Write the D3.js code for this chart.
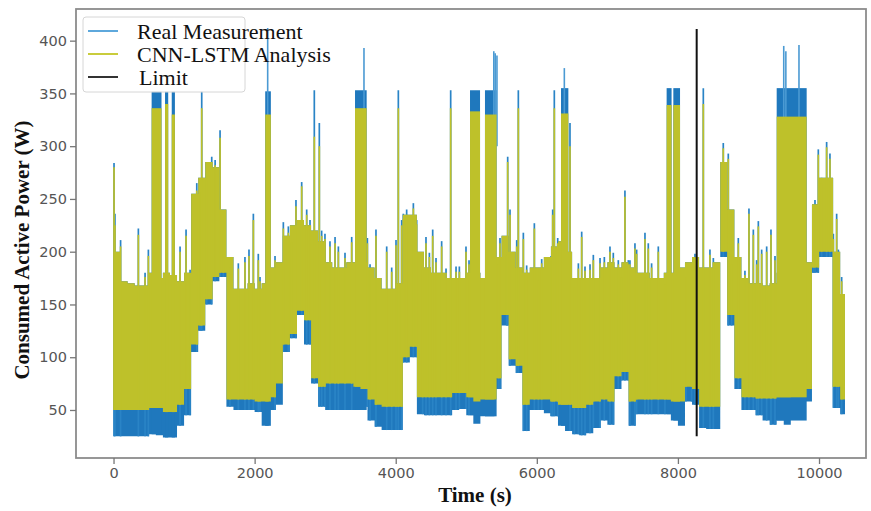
<!DOCTYPE html>
<html><head><meta charset="utf-8">
<script src="https://cdn.jsdelivr.net/npm/d3@7"></script>
<style>body{margin:0;background:#fff}svg{display:block}</style>
</head><body><svg id="c" width="871" height="511"></svg>
<script>
// ---------- data ----------
const binWidth = 100;          // seconds per envelope bin
const seriesEnd = 10368;       // last sample time (s)
// envelope of the dense part, one value per 100 s bin starting at t = 0
const realLow = [25,25,25,25,25,27,26,24,24,35,
  45,105,125,150,172,176,53,50,50,50,
  48,35,50,55,105,118,140,112,75,53,
  50,50,50,50,50,53,40,34,31,31,
  31,95,100,46,45,45,45,45,50,51,
  45,37,44,44,70,130,92,85,30,50,
  50,47,44,35,30,27,26,28,33,40,
  36,70,78,35,46,46,46,46,46,40,
  35,58,55,33,32,32,195,130,70,50,
  50,45,40,36,40,36,47,56,58,180,
  195,195,52,46];
const predLow = [50,50,50,50,50,52,52,48,48,55,
  70,112,130,155,176,180,60,60,60,60,
  58,58,62,75,112,122,144,135,80,72,
  75,75,75,75,72,70,60,55,53,53,
  53,100,110,62,62,62,62,62,66,66,
  62,58,60,60,80,140,98,92,55,60,
  60,60,58,55,55,52,52,55,58,60,
  58,82,86,58,60,60,60,60,60,58,
  58,72,70,53,53,53,200,140,80,62,
  62,61,61,61,62,62,68,70,70,185,
  200,200,72,60];
const denseTop = [200,172,170,168,168,180,175,180,178,172,
  180,255,270,285,280,240,195,165,165,170,
  165,170,185,190,215,225,230,225,220,210,
  190,185,185,190,190,190,185,175,165,165,
  170,235,235,200,185,180,180,175,175,175,
  180,180,175,180,195,215,200,185,180,185,
  185,195,205,210,200,175,175,175,175,185,
  190,185,190,185,180,180,175,175,180,180,
  185,190,195,185,185,190,285,240,195,175,
  170,170,168,170,180,180,180,180,190,245,
  270,270,200,160];
// individual spikes: time, CNN-LSTM peak, real peak
const spikeT = [7,20,100,352,447,494,943,1028,1085,1180,1227,1250,1321,1392,1440,1510,1557,
  1650,1769,1863,1920,1982,2052,2076,2289,2407,2478,2525,2586,2667,2738,2785,2846,2917,2950,2997,
  3068,3140,3187,3281,3376,3598,3636,3720,3872,3943,4004,4037,4084,4108,4155,4250,4297,4382,4429,
  4477,4524,4571,4651,4713,4779,4855,4902,4996,5039,5455,5478,5573,5587,5620,5715,5738,5809,5856,
  5965,6022,6069,6201,6225,6248,6296,6470,6532,6589,6636,6683,6754,6801,6896,6957,7037,7084,7155,
  7202,7249,7297,7320,7391,7415,7533,7580,7627,7722,7816,8114,8194,8242,8360,8454,8502,8643,8714,
  8761,8856,8950,9007,9069,9116,9140,9187,9258,9319,9376,9919,9943,9990,10037,10108,10155,10203,
  10250,10274,10321];
const spikePred = [280,225,205,216,176,196,200,215,179,258,256,336,268,285,282,308,220,
  185,184,190,196,230,192,172,192,222,218,209,243,262,235,225,309,300,215,212,
  205,208,200,194,209,208,184,215,200,181,206,336,225,231,235,241,226,187,208,
  195,215,190,205,180,336,181,181,200,188,188,208,196,285,235,205,336,212,183,
  222,173,189,192,235,336,208,300,166,184,214,182,183,192,189,190,200,194,188,
  176,252,188,188,203,198,212,203,185,200,169,176,182,193,340,197,190,298,288,
  188,208,178,236,216,188,224,198,200,216,192,238,244,292,265,299,288,212,
  231,198,172];
const spikeReal = [284,236,211,222,180,202,205,221,183,265,262,352,274,290,287,315,224,
  189,189,195,202,236,198,176,196,228,224,213,249,266,240,230,353,322,220,217,
  210,214,205,199,214,213,188,221,205,185,211,353,230,236,240,246,230,192,214,
  199,221,194,210,184,353,186,186,205,192,192,213,200,290,240,211,353,218,187,
  227,177,193,196,240,353,213,322,170,189,219,186,188,197,194,195,205,199,192,
  180,258,192,192,208,202,218,208,189,205,173,180,186,198,355,202,194,303,293,
  192,213,182,241,221,192,229,202,205,221,196,243,249,297,270,304,293,217,
  236,202,176];
// saturated blocks: start, end, CNN-LSTM top, real top
const plateauStart = [540,730,825,2150,3423,5053,5265,6343,7840,7935,9400];
const plateauEnd   = [680,775,870,2230,3588,5195,5430,6447,7910,8030,9825];
const plateauPred  = [336,340,330,330,336,333,330,331,339,339,328];
const plateauReal  = [352,352,352,352,353,353,353,355,355,355,355];
// thin real-measurement peaks above the blocks
const peakT    = [2185,3550,5390,5410,5435,6390,9500,9530,9716];
const peakReal = [412,393,390,388,386,374,395,390,396];
// limit line
const limitT = 8266;
const limitLow = 25, limitHigh = 411;
const xTicks = [0,2000,4000,6000,8000,10000];
const yTicks = [50,100,150,200,250,300,350,400];
const legendLabels = ["Real Measurement","CNN-LSTM Analysis","Limit"];

// ---------- drawing ----------
const BLUE = "#1f78bd", YEL = "#bec12a";
const svg = d3.select("#c");
const x = d3.scaleLinear().domain([-532, 10666]).range([76, 866]);
const y = d3.scaleLinear().domain([4.5, 430]).range([458, 9]);

const bins = realLow.map((v, i) => ({t: i * binWidth, rl: v, pl: predLow[i], top: denseTop[i]}));
const last = bins[bins.length - 1];
const areaData = bins.concat([{t: seriesEnd, rl: last.rl, pl: last.pl, top: last.top}]);
const binAt = t => bins[Math.max(0, Math.min(bins.length - 1, Math.floor(t / binWidth)))];

const g = svg.append("g");
// blue (real) band
g.append("path").datum(areaData)
  .attr("d", d3.area().curve(d3.curveStepAfter).x(d => x(d.t)).y0(d => y(d.rl)).y1(d => y(d.top)))
  .attr("fill", BLUE);
// blue plateaus
plateauStart.forEach((s, i) => {
  g.append("rect").attr("x", x(s)).attr("width", x(plateauEnd[i]) - x(s))
    .attr("y", y(plateauReal[i])).attr("height", y(binAt(s).rl) - y(plateauReal[i]))
    .attr("fill", BLUE);
});
// blue spikes
g.selectAll("line.bs").data(spikeT).enter().append("line")
  .attr("x1", d => x(d)).attr("x2", d => x(d))
  .attr("y1", d => y(binAt(d).rl)).attr("y2", (d, i) => y(spikeReal[i]))
  .attr("stroke", "#2a84c6").attr("stroke-width", 1.7);
g.selectAll("line.bp").data(peakT).enter().append("line")
  .attr("x1", d => x(d)).attr("x2", d => x(d))
  .attr("y1", d => y(300)).attr("y2", (d, i) => y(peakReal[i]))
  .attr("stroke", "#4b9ad3").attr("stroke-width", 1.6);
// yellow (CNN-LSTM) band
g.append("path").datum(areaData)
  .attr("d", d3.area().curve(d3.curveStepAfter).x(d => x(d.t)).y0(d => y(d.pl)).y1(d => y(d.top)))
  .attr("fill", YEL);
plateauStart.forEach((s, i) => {
  g.append("rect").attr("x", x(s)).attr("width", x(plateauEnd[i]) - x(s))
    .attr("y", y(plateauPred[i])).attr("height", y(binAt(s).pl) - y(plateauPred[i]))
    .attr("fill", YEL);
});
g.selectAll("line.ys").data(spikeT).enter().append("line")
  .attr("x1", d => x(d)).attr("x2", d => x(d))
  .attr("y1", d => y(binAt(d).pl)).attr("y2", (d, i) => y(spikePred[i]))
  .attr("stroke", YEL).attr("stroke-width", 1.7);

// limit line
svg.append("line").attr("x1", x(limitT)).attr("x2", x(limitT))
  .attr("y1", y(limitLow)).attr("y2", y(limitHigh))
  .attr("stroke", "#111").attr("stroke-width", 2);

// frame
svg.append("rect").attr("x", 76).attr("y", 9).attr("width", 790).attr("height", 449)
  .attr("fill", "none").attr("stroke", "#8c8c8c").attr("stroke-width", 1.8);

// axes
const ax = svg.append("g").attr("transform", "translate(0,458)")
  .call(d3.axisBottom(x).tickValues(xTicks).tickSize(6).tickPadding(4).tickFormat(d3.format("d")));
const ay = svg.append("g").attr("transform", "translate(76,0)")
  .call(d3.axisLeft(y).tickValues(yTicks).tickSize(6).tickPadding(3));
[ax, ay].forEach(a => {
  a.select(".domain").remove();
  a.selectAll("line").attr("stroke", "#777").attr("stroke-width", 1.3);
  a.selectAll("text").attr("fill", "#555").style("font-family", "DejaVu Sans").style("font-size", "14.5px");
});

// axis titles
svg.append("text").attr("x", 475).attr("y", 502).attr("text-anchor", "middle")
  .style("font-family", "Liberation Serif").style("font-weight", "bold").style("font-size", "21px")
  .attr("fill", "#111").text("Time (s)");
svg.append("text").attr("transform", "translate(29,250) rotate(-90)").attr("text-anchor", "middle")
  .style("font-family", "Liberation Serif").style("font-weight", "bold").style("font-size", "21px")
  .attr("fill", "#111").text("Consumed Active Power (W)");

// legend
const lg = svg.append("g");
lg.append("rect").attr("x", 83).attr("y", 17).attr("width", 162).attr("height", 75).attr("rx", 3)
  .attr("fill", "#fff").attr("fill-opacity", 0.85).attr("stroke", "#d6d6d6");
const legendColors = ["#5ea8dc", "#c9cc3c", "#333"];
const legendY = [31, 54, 77];
const legendTextX = [137, 137, 139];
legendLabels.forEach((lab, i) => {
  lg.append("line").attr("x1", 88).attr("x2", 118).attr("y1", legendY[i]).attr("y2", legendY[i])
    .attr("stroke", legendColors[i]).attr("stroke-width", 2);
  lg.append("text").attr("x", legendTextX[i]).attr("y", legendY[i] + 8)
    .style("font-family", "Liberation Serif").style("font-size", "22px").attr("fill", "#111").text(lab);
});
</script></body></html>
